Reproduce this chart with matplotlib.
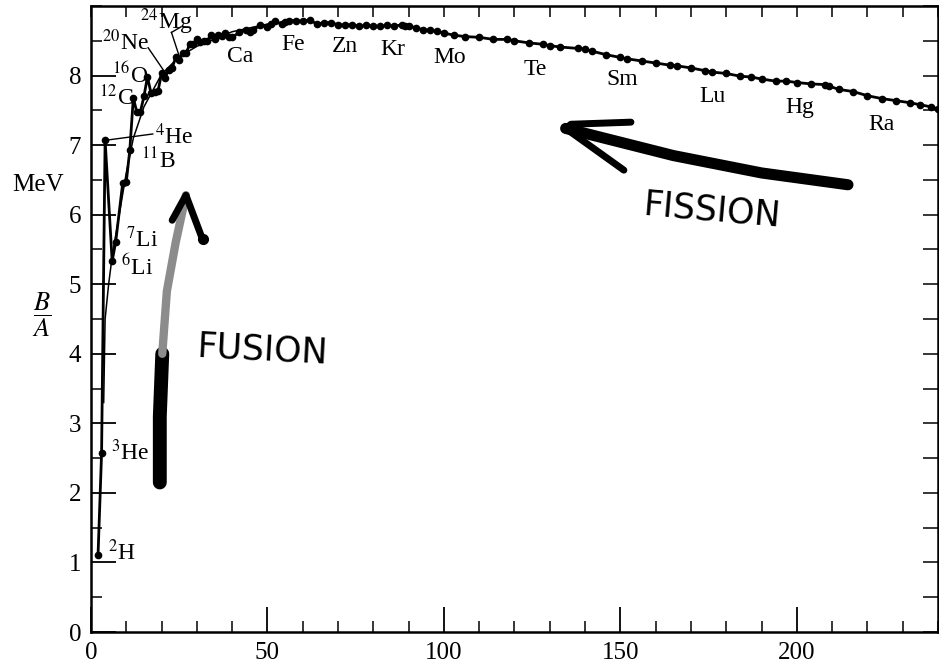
"""Binding energy per nucleon vs mass number, with hand-drawn fusion/fission arrows."""

import matplotlib
matplotlib.use("Agg")
import matplotlib.pyplot as plt
import numpy as np

plt.rcParams["font.family"] = ["Liberation Serif", "DejaVu Serif"]
plt.rcParams["mathtext.fontset"] = "stix"

# measured B/A for stable nuclei, connected in order of A
mass_number = [2, 3, 4, 6, 7, 9, 10, 11, 12, 13, 14, 15, 16, 17, 18, 19, 20, 21, 22,
               23, 24, 25, 26, 27, 28, 29, 30, 31, 32, 33, 34, 35, 36, 37, 38, 39, 40,
               42, 44, 45, 46, 48, 50, 51, 52, 54, 55, 56, 58, 60, 62, 64, 66, 68, 70,
               72, 74, 76, 78, 80, 82, 84, 86, 88, 89, 90, 92, 94, 96, 98, 100, 103,
               106, 110, 114, 118, 120, 124, 128, 130, 133, 138, 140, 142, 146, 150,
               152, 156, 160, 164, 166, 170, 174, 176, 180, 184, 187, 190, 194, 197,
               200, 204, 208, 209, 212, 216, 220, 224, 228, 232, 235, 238, 240]
b_per_a = [1.11, 2.57, 7.07, 5.33, 5.61, 6.46, 6.47, 6.93, 7.68, 7.47, 7.48, 7.70,
           7.98, 7.75, 7.77, 7.78, 8.03, 7.97, 8.08, 8.11, 8.26, 8.22, 8.33, 8.33,
           8.45, 8.45, 8.52, 8.48, 8.49, 8.50, 8.58, 8.52, 8.58, 8.57, 8.61, 8.56,
           8.55, 8.62, 8.66, 8.62, 8.66, 8.72, 8.70, 8.74, 8.78, 8.74, 8.77, 8.79,
           8.79, 8.78, 8.80, 8.74, 8.76, 8.76, 8.73, 8.73, 8.73, 8.71, 8.72, 8.71,
           8.71, 8.72, 8.71, 8.73, 8.71, 8.71, 8.69, 8.66, 8.65, 8.64, 8.61, 8.58,
           8.56, 8.55, 8.52, 8.52, 8.50, 8.47, 8.45, 8.43, 8.41, 8.39, 8.38, 8.35,
           8.30, 8.26, 8.24, 8.21, 8.18, 8.15, 8.14, 8.11, 8.07, 8.05, 8.03, 7.99,
           7.98, 7.95, 7.92, 7.92, 7.90, 7.88, 7.87, 7.85, 7.80, 7.77, 7.71, 7.67,
           7.64, 7.61, 7.58, 7.55, 7.52]

smooth_a = [3.6, 4, 5, 6, 7, 8, 10, 12, 15, 20, 25, 30, 40, 50, 56, 62]
smooth_ba = [3.3, 4.5, 5.0, 5.4, 5.7, 6.0, 6.6, 7.1, 7.55, 8.02, 8.27, 8.42, 8.63,
             8.74, 8.78, 8.79]

# element labels: (text, A, B/A) at the left edge of each label
left_labels = [
    ("$^{2}$H", 4.8, 1.15), ("$^{3}$He", 5.6, 2.58), ("$^{6}$Li", 8.6, 5.25),
    ("$^{7}$Li", 10.0, 5.64), ("$^{11}$B", 14.2, 6.78), ("$^{4}$He", 18.0, 7.13),
    ("$^{12}$C", 2.4, 7.68), ("$^{16}$O", 6.0, 8.0), ("$^{20}$Ne", 3.0, 8.47),
    ("$^{24}$Mg", 14.0, 8.78),
]
center_labels = [
    ("Ca", 42.2, 8.27), ("Fe", 57.2, 8.45), ("Zn", 72.0, 8.42), ("Kr", 85.6, 8.37),
    ("Mo", 101.7, 8.26), ("Te", 125.8, 8.09), ("Sm", 150.4, 7.94), ("Lu", 176.0, 7.70),
    ("Hg", 200.9, 7.54), ("Ra", 224.0, 7.29),
]


def main() -> None:
    fig = plt.figure(figsize=(9.39, 6.66), dpi=100)
    ax = fig.add_axes([0.0969, 0.051, 0.902, 0.940])

    ax.plot(smooth_a, smooth_ba, color="black", lw=1.1, zorder=2)
    ax.plot(mass_number, b_per_a, color="black", lw=2.0, marker="o", ms=4.5,
            zorder=3)

    # leader lines for a few labels
    ax.plot([4.2, 17.5], [7.07, 7.16], color="black", lw=1.0)
    ax.plot([16.2, 20.5], [8.40, 8.08], color="black", lw=1.0)
    ax.plot([22.8, 25.0], [8.62, 8.28], color="black", lw=1.0)
    ax.plot([22.8, 25.5], [8.62, 8.70], color="black", lw=1.0)

    for txt, a, ba in left_labels:
        ax.text(a, ba, txt, ha="left", va="center", fontsize=17)
    for txt, a, ba in center_labels:
        ax.text(a, ba, txt, ha="center", va="center", fontsize=17)

    # hand-drawn FUSION arrow
    ax.plot([19.5, 19.5, 20.2], [2.15, 3.1, 4.0], color="black", lw=10,
            solid_capstyle="round")
    ax.plot([20.2, 21.5, 24.0, 26.9], [4.0, 4.9, 5.6, 6.28], color="0.55", lw=6,
            solid_capstyle="round")
    ax.plot([23.0, 26.9, 31.5], [5.92, 6.28, 5.66], color="black", lw=5,
            solid_capstyle="round", solid_joinstyle="round")
    ax.plot([31.6], [5.65], marker="o", ms=7, color="black")
    ax.text(48.5, 4.05, "FUSION", fontsize=25, family="DejaVu Sans",
            ha="center", va="center", rotation=-3)

    # hand-drawn FISSION arrow
    ax.plot([214.5, 190.0, 165.0, 134.5], [6.43, 6.6, 6.85, 7.24], color="black",
            lw=8, solid_capstyle="round")
    ax.plot([153.0, 136.0, 134.5, 151.0], [7.33, 7.3, 7.24, 6.64], color="black",
            lw=5, solid_capstyle="round", solid_joinstyle="round")
    ax.text(176.0, 6.06, "FISSION", fontsize=25, family="DejaVu Sans",
            ha="center", va="center", rotation=-5)

    ax.set_xlim(0, 240)
    ax.set_ylim(0, 9)
    ax.set_xticks(np.arange(0, 201, 50))
    ax.set_xticks(np.arange(0, 241, 10), minor=True)
    ax.set_yticks(np.arange(0, 9))
    ax.set_yticks(np.arange(0, 9.01, 0.5), minor=True)
    ax.tick_params(direction="in", which="major", length=18, width=1.3,
                   labelsize=18, pad=7)
    ax.tick_params(direction="in", which="minor", length=8, width=1.1)
    for sp in ax.spines.values():
        sp.set_linewidth(1.8)

    top = ax.secondary_xaxis("top")
    top.set_xticks(np.arange(0, 241, 10))
    top.tick_params(direction="in", length=8, width=1.1, labeltop=False)
    right = ax.secondary_yaxis("right")
    right.set_yticks(np.arange(0, 9.01, 0.5))
    right.tick_params(direction="in", length=11, width=1.1, labelright=False)

    fig.text(12 / 939, 1 - 185 / 666, "MeV", fontsize=18, ha="left", va="center")
    fig.text(42 / 939, 1 - 315 / 666, r"$\dfrac{B}{A}$", fontsize=19,
             ha="center", va="center")

    fig.savefig("out.png", dpi=100)
    plt.close(fig)


if __name__ == "__main__":
    main()
